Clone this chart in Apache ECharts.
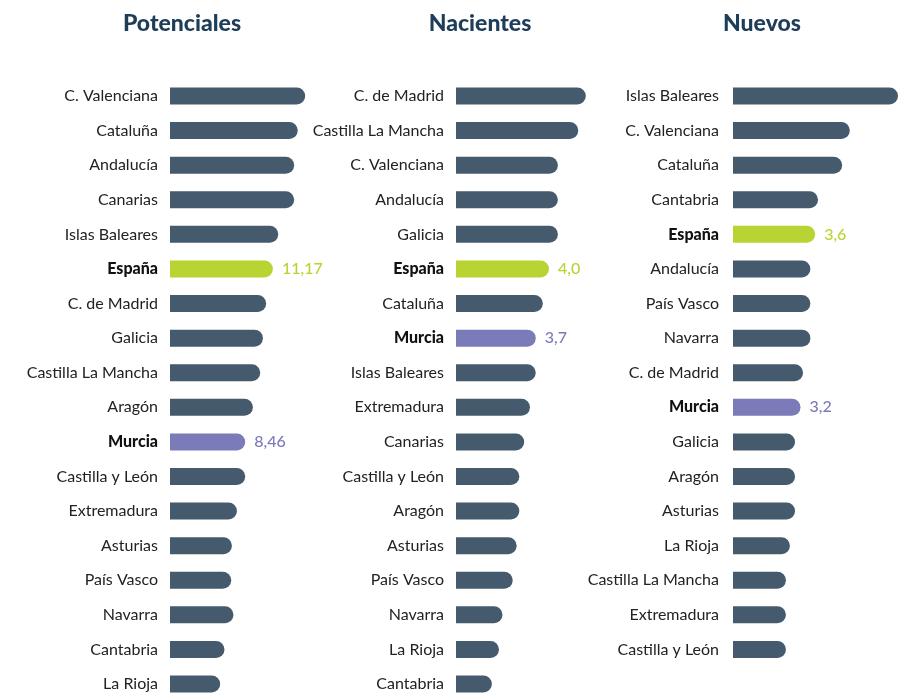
<!DOCTYPE html>
<html>
<head>
<meta charset="utf-8">
<script src="https://cdn.jsdelivr.net/npm/echarts@6/dist/echarts.min.js"></script>
<style>
  html, body { margin: 0; padding: 0; background: #fff; overflow: hidden; }
  #chart { width: 898px; height: 730px; }
</style>
</head>
<body>
<div id="chart"></div>
<script>
// datos (tasas por comunidad)
var titles = ['Potenciales', 'Nacientes', 'Nuevos'];

var catPotenciales = ['C. Valenciana', 'Cataluña', 'Andalucía', 'Canarias', 'Islas Baleares', 'España',
  'C. de Madrid', 'Galicia', 'Castilla La Mancha', 'Aragón', 'Murcia', 'Castilla y León',
  'Extremadura', 'Asturias', 'País Vasco', 'Navarra', 'Cantabria', 'La Rioja'];
var valPotenciales = [14.33, 13.6, 13.25, 13.25, 11.69, 11.17, 10.51, 10.19, 9.93, 9.21, 8.46, 8.46,
  7.65, 7.16, 7.09, 7.31, 6.43, 6.01];

var catNacientes = ['C. de Madrid', 'Castilla La Mancha', 'C. Valenciana', 'Andalucía', 'Galicia', 'España',
  'Cataluña', 'Murcia', 'Islas Baleares', 'Extremadura', 'Canarias', 'Castilla y León',
  'Aragón', 'Asturias', 'País Vasco', 'Navarra', 'La Rioja', 'Cantabria'];
var valNacientes = [4.83, 4.66, 4.2, 4.2, 4.2, 4.0, 3.86, 3.7, 3.7, 3.57, 3.44, 3.33,
  3.33, 3.27, 3.18, 2.95, 2.87, 2.71];

var catNuevos = ['Islas Baleares', 'C. Valenciana', 'Cataluña', 'Cantabria', 'España', 'Andalucía',
  'País Vasco', 'Navarra', 'C. de Madrid', 'Murcia', 'Galicia', 'Aragón',
  'Asturias', 'La Rioja', 'Castilla La Mancha', 'Extremadura', 'Castilla y León'];
var valNuevos = [5.9, 4.55, 4.34, 3.68, 3.6, 3.47, 3.47, 3.47, 3.27, 3.2, 3.05, 3.05,
  3.05, 2.91, 2.8, 2.8, 2.8];

var decimals = [2, 1, 1];

var colorBar = '#455a6d';
var colorEsp = '#b8d433';
var colorMur = '#7a7bb8';
var fontFam = 'Lato, "Open Sans", sans-serif';

var myChart = echarts.init(document.getElementById('chart'));

var rowH = 34.59;
var panels = [
  { cats: catPotenciales, vals: valPotenciales, left: 170, width: 150, min: 1.1, max: 1.1 + 150 / 10.22, margin: 12, cx: 177 },
  { cats: catNacientes, vals: valNacientes, left: 456, width: 150, min: 1.9, max: 1.9 + 150 / 44.3, margin: 12, cx: 475 },
  { cats: catNuevos, vals: valNuevos, left: 733, width: 165, min: 1.35, max: 1.35 + 165 / 36.5, margin: 14, cx: 757 }
];

var grid = [], xAxis = [], yAxis = [], series = [], title = [];

panels.forEach(function (p, i) {
  title.push({
    text: titles[i],
    left: p.cx,
    top: 7,
    textAlign: 'center',
    textStyle: { fontFamily: fontFam, fontSize: 23, fontWeight: 900, color: '#1e3d58' }
  });
  grid.push({ left: p.left, top: 78.7, width: p.width, height: p.cats.length * rowH });
  xAxis.push({
    gridIndex: i, type: 'value', min: p.min, max: p.max,
    show: false, splitLine: { show: false }
  });
  yAxis.push({
    gridIndex: i, type: 'category', inverse: true, data: p.cats,
    axisLine: { show: false }, axisTick: { show: false },
    axisLabel: {
      margin: p.margin, fontFamily: fontFam, fontSize: 16, color: '#222',
      formatter: function (v) {
        return (v === 'España' || v === 'Murcia') ? '{b|' + v + '}' : v;
      },
      rich: { b: { fontFamily: fontFam, fontSize: 16, fontWeight: 900, color: '#111' } }
    }
  });
  series.push({
    type: 'bar', xAxisIndex: i, yAxisIndex: i,
    barWidth: 17,
    itemStyle: { color: colorBar, borderRadius: [0, 8.5, 8.5, 0] },
    label: {
      show: false, position: 'right', distance: 9,
      fontFamily: fontFam, fontSize: 16, fontWeight: 500,
      formatter: function (d) { return d.value.toFixed(decimals[i]).replace('.', ','); }
    },
    data: p.vals.map(function (v, k) {
      var c = p.cats[k];
      var col = c === 'España' ? colorEsp : (c === 'Murcia' ? colorMur : colorBar);
      var hi = col !== colorBar;
      return { value: v, itemStyle: { color: col }, label: { show: hi, color: col } };
    })
  });
});

myChart.setOption({
  backgroundColor: '#fff',
  animation: false,
  title: title,
  grid: grid,
  xAxis: xAxis,
  yAxis: yAxis,
  series: series
});
</script>
</body>
</html>
